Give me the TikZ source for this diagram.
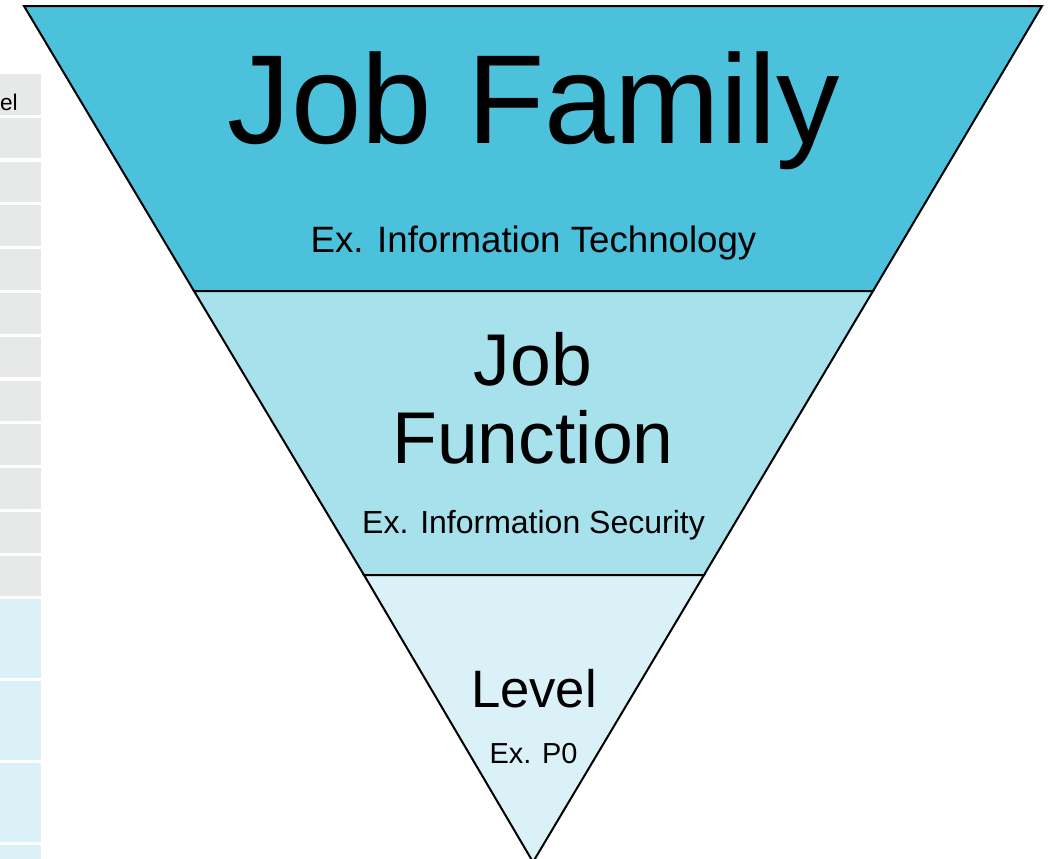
\documentclass[tikz,border=0pt]{standalone}
\usepackage{fontspec}
\setmainfont{Liberation Sans}
\definecolor{familyblue}{HTML}{4BC1DB}
\definecolor{functionblue}{HTML}{A6E1EC}
\definecolor{levelblue}{HTML}{DAF1F7}
\definecolor{cellgray}{HTML}{E7E8E8}
\begin{document}
\begin{tikzpicture}[x=0.75pt,y=0.75pt,yscale=-1,xscale=1]
        \useasboundingbox (0,0) rectangle (1048,858);
        
        %Table cells behind, on the left
        \foreach \i in {0,...,11}
            \fill [cellgray] (0,74+43.8*\i) rectangle (41,114.5+43.8*\i);
        \foreach \i in {0,...,3}
            \fill [levelblue] (0,599+82*\i) rectangle (41,678+82*\i);
        % Text Node
        \draw (18,110) node [anchor=base east] [inner sep=0pt]  [font=\fontsize{17}{20}\selectfont]  (cellhead) {el};
        
        %Shape: Trapezoid [id:family] 
        \draw [fill=familyblue, line width=1.5pt]  (24,6) -- (1042,6) -- (873,291) -- (194,291) -- cycle ;
        %Shape: Trapezoid [id:function] 
        \draw [fill=functionblue, line width=1.5pt]  (194,291) -- (873,291) -- (704,575) -- (364,575) -- cycle ;
        %Shape: Triangle [id:level] 
        \draw [fill=levelblue, line width=1.5pt]  (364,575) -- (704,575) -- (533,862) -- cycle ;
        
        % Text Node
        \draw (534,143) node [anchor=base] [inner sep=0pt]  [font=\fontsize{95}{95}\selectfont]  (family) {Job Family};
        % Text Node
        \draw (533.5,252) node [anchor=base] [inner sep=0pt]  [font=\fontsize{27.5}{30}\selectfont]  (familyex) {Ex. Information Technology};
        % Text Node
        \draw (533,385) node [anchor=base] [inner sep=0pt]  [font=\fontsize{55}{55}\selectfont]  (functop) {Job};
        % Text Node
        \draw (533,463) node [anchor=base] [inner sep=0pt]  [font=\fontsize{55}{55}\selectfont]  (funcbot) {Function};
        % Text Node
        \draw (533.5,533) node [anchor=base] [inner sep=0pt]  [font=\fontsize{24}{28}\selectfont]  (funcex) {Ex. Information Security};
        % Text Node
        \draw (534,707) node [anchor=base] [inner sep=0pt]  [font=\fontsize{39.5}{40}\selectfont]  (level) {Level};
        % Text Node
        \draw (533.5,763) node [anchor=base] [inner sep=0pt]  [font=\fontsize{21.7}{24}\selectfont]  (levelex) {Ex. P0};
        
        \end{tikzpicture}
\end{document}
